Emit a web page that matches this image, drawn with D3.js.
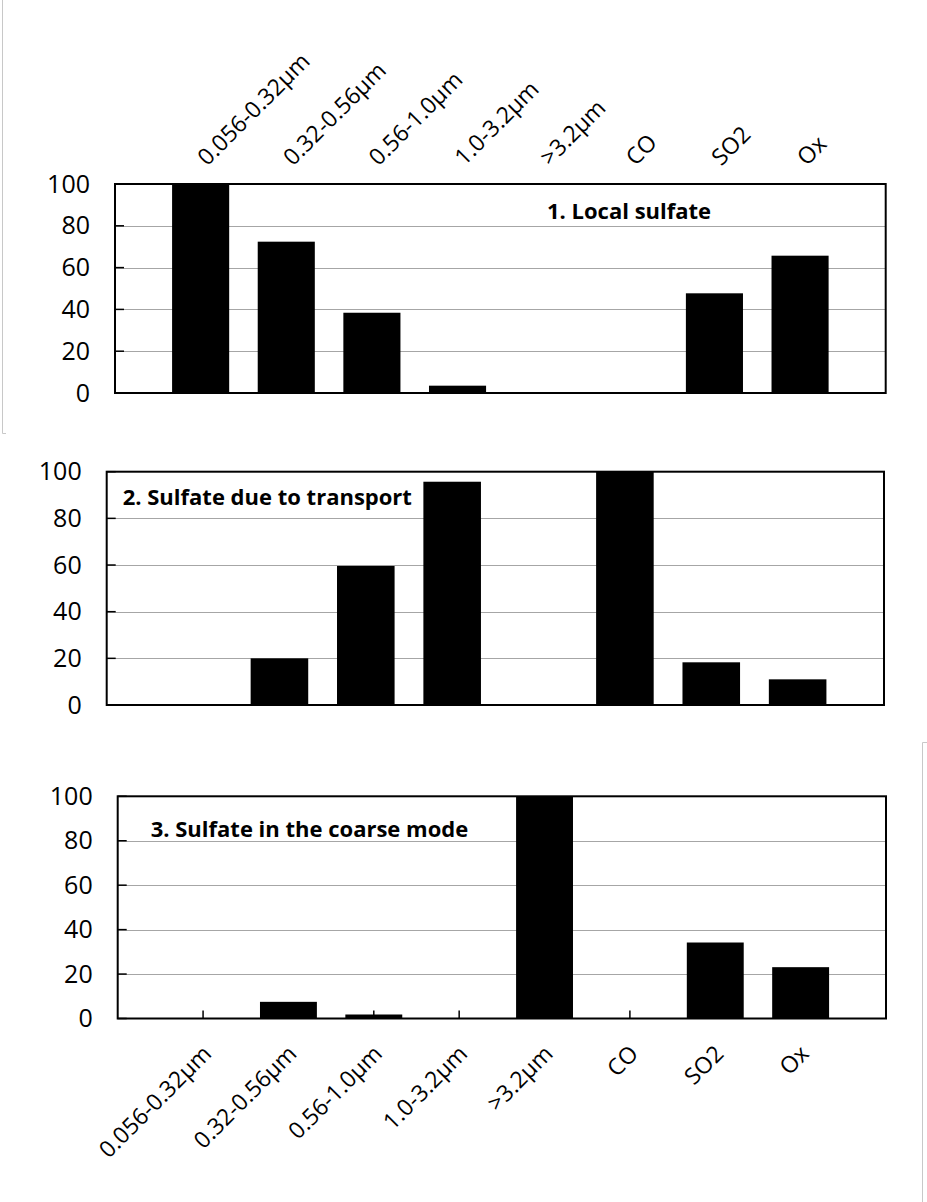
<!DOCTYPE html>
<html>
<head>
<meta charset="utf-8">
<script src="https://cdn.jsdelivr.net/npm/d3@7"></script>
<style>
  html, body { margin: 0; padding: 0; background: #fff; }
  svg { display: block; }
  text { font-family: "Open Sans", "Noto Sans", sans-serif; fill: #000; }
</style>
</head>
<body>
<script>
// Categories shared by all three panels
const categories = ["0.056-0.32μm", "0.32-0.56μm", "0.56-1.0μm", "1.0-3.2μm", ">3.2μm", "CO", "SO2", "Ox"];

// Factor loadings (%) per panel
const localSulfate     = [100, 72.4, 38.4, 3.5, 0, 0, 47.7, 65.7];
const transportSulfate = [0, 20, 59.6, 95.7, 0, 100, 18.3, 11.0];
const coarseSulfate    = [0, 7.5, 1.8, 0, 100, 0, 34.2, 23.1];

const yTicks = [0, 20, 40, 60, 80, 100];

const titles = ["1. Local sulfate", "2. Sulfate due to transport", "3. Sulfate in the coarse mode"];

const W = 927, H = 1202;
const svg = d3.select("body").append("svg").attr("width", W).attr("height", H);

// Thin page-border remnants
svg.append("path").attr("d", "M2.5,0V433.5H6").attr("fill", "none").attr("stroke", "#c8c8c8").attr("stroke-width", 1);
svg.append("path").attr("d", "M927,742.5H922.5V1202").attr("fill", "none").attr("stroke", "#c8c8c8").attr("stroke-width", 1);

const panels = [
  { values: localSulfate,     box: [115, 885.7, 184, 393],      title: titles[0], tx: 432, ty: 34.5, labels: "top",    xticks: false },
  { values: transportSulfate, box: [106.7, 884, 471.7, 705],    title: titles[1], tx: 16,  ty: 33.5, labels: "none",   xticks: false },
  { values: coarseSulfate,    box: [117.7, 886, 796.3, 1018.5], title: titles[2], tx: 33,  ty: 40.5, labels: "bottom", xticks: true }
];

panels.forEach(p => {
  const [x0, x1, y0, y1] = p.box;
  const g = svg.append("g");

  const x = d3.scalePoint().domain(categories).range([x0, x1]).padding(1);
  const y = d3.scaleLinear().domain([0, 100]).range([y1, y0]);
  const barW = x.step() * 2 / 3;

  // Horizontal gridlines
  g.append("g").selectAll("line").data(yTicks.filter(t => t > 0 && t < 100)).join("line")
    .attr("x1", x0).attr("x2", x1)
    .attr("y1", d => Math.round(y(d)) + 0.5).attr("y2", d => Math.round(y(d)) + 0.5)
    .attr("stroke", "#a6a6a6").attr("stroke-width", 1);

  // Title
  g.append("text").attr("x", x0 + p.tx).attr("y", y0 + p.ty)
    .attr("font-size", 22).attr("font-weight", "bold").text(p.title);

  // Category tick marks (inside)
  if (p.xticks) {
    g.append("g").selectAll("line").data(categories).join("line")
      .attr("x1", d => x(d)).attr("x2", d => x(d))
      .attr("y1", y1).attr("y2", y1 - 8)
      .attr("stroke", "#000").attr("stroke-width", 1.5);
  }

  // Bars
  g.append("g").selectAll("rect").data(categories.map((c, i) => ({ c, v: p.values[i] })).filter(d => d.v > 0)).join("rect")
    .attr("x", d => x(d.c) - barW / 2)
    .attr("width", barW)
    .attr("y", d => y(d.v))
    .attr("height", d => y(0) - y(d.v))
    .attr("fill", "#000");

  // Y axis: inside ticks + labels
  const yAxis = d3.axisLeft(y).tickValues(yTicks).tickSize(0).tickPadding(25);
  const ya = g.append("g").attr("transform", `translate(${x0},0)`).call(yAxis);
  ya.select(".domain").remove();
  ya.selectAll("text").attr("font-size", 25).attr("font-family", "'Open Sans', sans-serif").attr("fill", "#000");
  g.append("g").selectAll("line").data(yTicks).join("line")
    .attr("x1", x0).attr("x2", x0 + 9)
    .attr("y1", d => y(d)).attr("y2", d => y(d))
    .attr("stroke", "#000").attr("stroke-width", 1.5);

  // Frame
  g.append("rect").attr("x", x0).attr("y", y0).attr("width", x1 - x0).attr("height", y1 - y0)
    .attr("fill", "none").attr("stroke", "#000").attr("stroke-width", 2);

  // Rotated category labels
  if (p.labels === "top") {
    g.append("g").selectAll("text").data(categories).join("text")
      .attr("transform", d => `translate(${x(d) + 1},${y0 - 23}) rotate(-45)`)
      .attr("text-anchor", "start").attr("dy", "0.35em")
      .attr("font-size", 23).text(d => d);
  } else if (p.labels === "bottom") {
    g.append("g").selectAll("text").data(categories).join("text")
      .attr("transform", d => `translate(${x(d) + 4},${y1 + 31}) rotate(-45)`)
      .attr("text-anchor", "end").attr("dy", "0.35em")
      .attr("font-size", 23).text(d => d);
  }
});
</script>
</body>
</html>
